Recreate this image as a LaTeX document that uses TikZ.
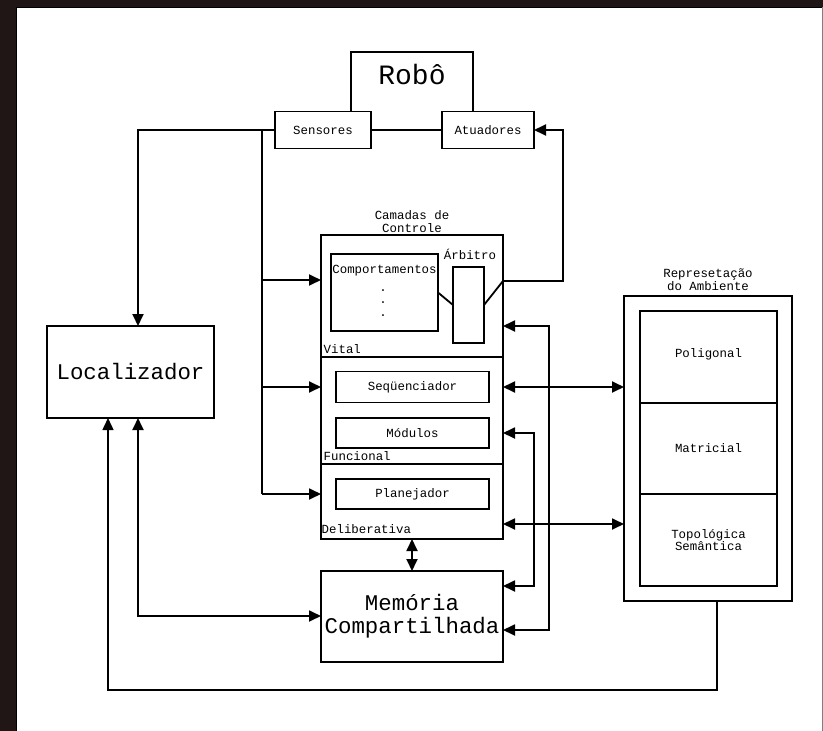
\documentclass[tikz,border=0pt]{standalone}
\usepackage{fontspec}
\setmonofont{Liberation Mono}
\usetikzlibrary{arrows.meta}
\definecolor{framedark}{RGB}{32,22,22}
\begin{document}
\begin{tikzpicture}[x=1pt,y=-1pt,
  box/.style={draw, line width=1.8pt, fill=white, inner sep=0pt, outer sep=0pt, rectangle},
  txt/.style={font=\ttfamily\fontsize{12.4}{12.5}\selectfont, inner sep=0pt},
  big/.style={font=\ttfamily\fontsize{22.4}{23}\selectfont, inner sep=0pt},
  wire/.style={line width=1.8pt},
  tip/.tip={Triangle[length=12pt,width=11pt]},
  arr/.style={wire, -tip},
  darr/.style={wire, tip-tip},
]
\useasboundingbox (0,0) rectangle (823,731);
% page frame
\fill[framedark] (0,0) rectangle (823,731);
\fill[white] (17,7) rectangle (822,731);
\draw[line width=1.2pt] (16.6,731) -- (16.6,7.6) -- (822,7.6);
\draw[gray, line width=1pt] (822.5,7) -- (822.5,731);

% robot with its sensors and actuators
\node[box, minimum width=122pt, minimum height=78pt] (robo) at (412,91) {};
\node[font=\ttfamily\fontsize{28}{30}\selectfont, inner sep=0pt, anchor=base] (robotxt) at (412,84) {Robô};
\node[box, txt, minimum width=96pt, minimum height=37pt] (sens) at (323,130) {Sensores};
\node[box, txt, minimum width=92pt, minimum height=37pt] (atua) at (488,130) {Atuadores};

% localizer
\node[box, big, minimum width=167pt, minimum height=92pt] (loc) at (130.5,372) {Localizador};

% control layers
\node[txt, align=center, font=\ttfamily\fontsize{12.4}{13}\selectfont] (camtxt) at (412,222) {Camadas de\\Controle};
\node[box, minimum width=182pt, minimum height=122pt] (vital) at (412,296) {};
\node[box, minimum width=182pt, minimum height=107pt] (func) at (412,410.5) {};
\node[box, minimum width=182pt, minimum height=75pt] (delib) at (412,501.5) {};
\node[txt, anchor=base west] (vitaltxt) at (323.5,353) {Vital};
\node[txt, anchor=base west] (functxt) at (323.5,460) {Funcional};
\node[txt, anchor=base west] (delibtxt) at (321.5,533.5) {Deliberativa};

\node[box, minimum width=107pt, minimum height=77pt] (comp) at (384.5,292.5) {};
\node[txt, anchor=base] (comptxt) at (384.5,273) {Comportamentos};
\node[txt, anchor=base] (dot1) at (383,291) {.};
\node[txt, anchor=base] (dot2) at (383,303.5) {.};
\node[txt, anchor=base] (dot3) at (383,316) {.};
\node[box, minimum width=31pt, minimum height=76pt] (arb) at (468.5,305) {};
\node[txt, anchor=base] (arbtxt) at (470,259) {Árbitro};

\node[box, txt, minimum width=153pt, minimum height=31pt] (seq) at (412.5,387) {Seqüenciador};
\node[box, txt, minimum width=153pt, minimum height=30pt] (mod) at (412.5,433) {Módulos};
\node[box, txt, minimum width=153pt, minimum height=30pt] (plan) at (412.5,494) {Planejador};

% shared memory
\node[box, big, align=center, minimum width=182pt, minimum height=91pt] (mem) at (412,616.5) {Memória\\Compartilhada};

% environment representation
\node[txt, align=center, font=\ttfamily\fontsize{12.4}{11}\selectfont] (ambtxt) at (708,280) {Represetação\\do Ambiente};
\node[box, minimum width=168pt, minimum height=305pt] (amb) at (708,448.5) {};
\node[box, txt, minimum width=137pt, minimum height=92pt] (poli) at (708.5,357) {};
\node[txt, anchor=base] (politxt) at (708.5,357) {Poligonal};
\node[box, txt, minimum width=137pt, minimum height=91pt] (matr) at (708.5,448.5) {Matricial};
\node[box, txt, minimum width=137pt, minimum height=92pt] (topo) at (708.5,540) {};
\node[txt, align=center, font=\ttfamily\fontsize{12.4}{11.5}\selectfont] (topotxt) at (708.5,540) {Topológica\\Semântica};

% helper coordinates
\coordinate (xLa) at (138,0);
\coordinate (xLb) at (108,0);
\coordinate (bus) at (262,0);
\coordinate (xA) at (563,0);
\coordinate (x1) at (534,0);
\coordinate (x2) at (549,0);
\coordinate (xB) at (717,0);
\coordinate (kA) at (503,281);
\coordinate (yV) at (0,280);
\coordinate (yV2) at (0,326);
\coordinate (yD) at (0,524);
\coordinate (yM1) at (0,586);
\coordinate (yM2) at (0,630);
\coordinate (yML) at (0,616);
\coordinate (yB) at (0,690);

% sensors to localizer and to the layers
\draw[arr] (sens.west) -| (loc.north -| xLa);
\draw[wire] (sens.west -| bus) -- (bus |- plan);
\draw[arr] (bus |- yV) -- (vital.west |- yV);
\draw[arr] (bus |- seq) -- (func.west |- seq);
\draw[arr] (bus |- plan) -- (delib.west |- plan);

% behaviours through the arbiter to the actuators
\draw[wire] (comp.east) -- (arb.west);
\draw[arr] (arb.east) -- (kA) -- (kA -| xA) |- (atua.east);

% layers and shared memory
\draw[darr] (func.east |- mod) -- (x1 |- mod) -- (x1 |- yM1) -- (mem.east |- yM1);
\draw[darr] (vital.east |- yV2) -- (x2 |- yV2) -- (x2 |- yM2) -- (mem.east |- yM2);
\draw[darr] (delib.south) -- (mem.north);

% layers and environment
\draw[darr] (func.east |- seq) -- (amb.west |- seq);
\draw[darr] (delib.east |- yD) -- (amb.west |- yD);

% localizer links
\draw[darr] (loc.south -| xLa) |- (mem.west |- yML);
\draw[arr, line width=1.5pt] (amb.south -| xB) -- (xB |- yB) -- (xLb |- yB) -- (loc.south -| xLb);
\end{tikzpicture}
\end{document}
